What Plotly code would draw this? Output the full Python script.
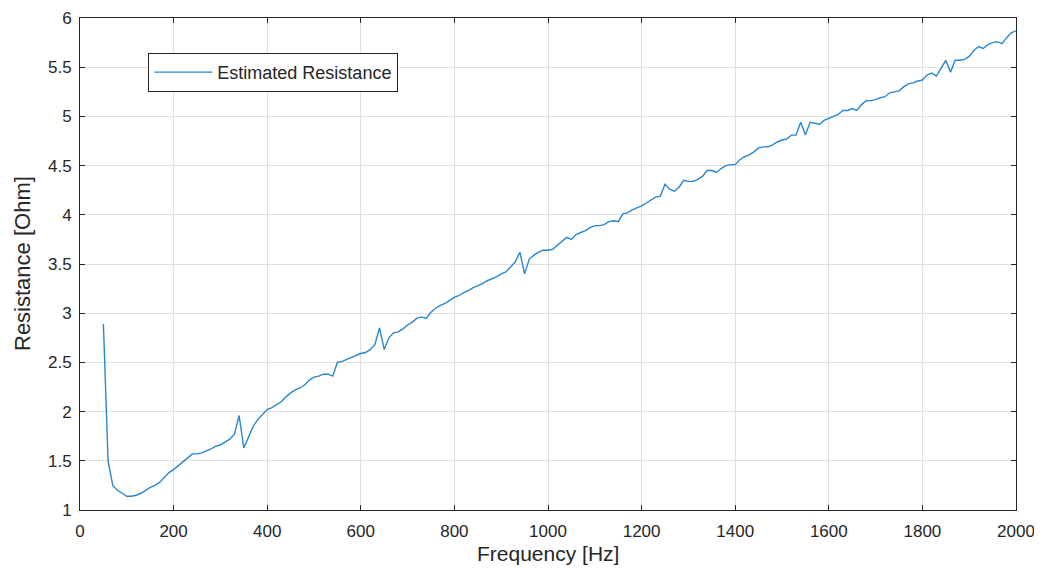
import plotly.graph_objects as go

freq_start = 50
freq_step = 10
resistance = [
    2.89, 1.50, 1.25, 1.20, 1.17, 1.14, 1.14, 1.15, 1.17, 1.20,   # 50-140
    1.23, 1.25, 1.28, 1.33, 1.38, 1.41, 1.45, 1.49, 1.53, 1.57,   # 150-240
    1.57, 1.58, 1.60, 1.62, 1.65, 1.66, 1.69, 1.72, 1.77, 1.96,   # 250-340
    1.63, 1.75, 1.85, 1.92, 1.97, 2.02, 2.04, 2.07, 2.10, 2.15,   # 350-440
    2.19, 2.22, 2.24, 2.27, 2.32, 2.35, 2.36, 2.38, 2.38, 2.36,   # 450-540
    2.50, 2.51, 2.53, 2.55, 2.57, 2.59, 2.60, 2.63, 2.68, 2.85,   # 550-640
    2.63, 2.75, 2.80, 2.81, 2.84, 2.88, 2.91, 2.95, 2.96, 2.95,   # 650-740
    3.01, 3.05, 3.08, 3.10, 3.13, 3.16, 3.18, 3.21, 3.23, 3.26,   # 750-840
    3.28, 3.30, 3.33, 3.35, 3.37, 3.40, 3.42, 3.47, 3.52, 3.62,   # 850-940
    3.40, 3.55, 3.59, 3.62, 3.64, 3.64, 3.65, 3.69, 3.73, 3.77,   # 950-1040
    3.75, 3.80, 3.82, 3.84, 3.87, 3.89, 3.89, 3.90, 3.93, 3.94,   # 1050-1140
    3.93, 4.01, 4.02, 4.05, 4.07, 4.09, 4.12, 4.15, 4.18, 4.19,   # 1150-1240
    4.31, 4.26, 4.24, 4.28, 4.35, 4.34, 4.34, 4.36, 4.39, 4.45,   # 1250-1340
    4.45, 4.43, 4.47, 4.50, 4.51, 4.51, 4.56, 4.59, 4.61, 4.64,   # 1350-1440
    4.68, 4.69, 4.69, 4.71, 4.74, 4.76, 4.77, 4.81, 4.81, 4.94,   # 1450-1540
    4.81, 4.94, 4.93, 4.92, 4.96, 4.98, 5.00, 5.02, 5.06, 5.06,   # 1550-1640
    5.08, 5.06, 5.12, 5.16, 5.16, 5.17, 5.19, 5.20, 5.24, 5.25,   # 1650-1740
    5.26, 5.30, 5.33, 5.34, 5.36, 5.37, 5.42, 5.44, 5.41, 5.49,   # 1750-1840
    5.57, 5.45, 5.57, 5.57, 5.58, 5.61, 5.67, 5.71, 5.69, 5.73,   # 1850-1940
    5.75, 5.76, 5.74, 5.80, 5.85, 5.87,                           # 1950-2000
]
frequency = [freq_start + freq_step * i for i in range(len(resistance))]

x_ticks = [0, 200, 400, 600, 800, 1000, 1200, 1400, 1600, 1800, 2000]
y_ticks = [1, 1.5, 2, 2.5, 3, 3.5, 4, 4.5, 5, 5.5, 6]
x_title = "Frequency [Hz]"
y_title = "Resistance [Ohm]"

FONT = "Liberation Sans, Arial, Helvetica, sans-serif"
AX = "#262626"
GRID = "#dfdfdf"

fig = go.Figure()
fig.add_trace(go.Scatter(
    x=frequency, y=resistance, mode="lines",
    name="Estimated Resistance",
    line=dict(color="#2a86cf", width=1.4),
))

axis_common = dict(
    showline=True, linecolor=AX, linewidth=1, mirror="ticks",
    ticks="inside", ticklen=5, tickcolor=AX, tickwidth=1,
    showgrid=True, gridcolor=GRID, gridwidth=1,
    zeroline=False, automargin=False, ticklabeloverflow="allow",
    tickfont=dict(family=FONT, size=17, color=AX),
)

fig.update_layout(
    width=1026, height=558, autosize=False,
    paper_bgcolor="white", plot_bgcolor="white",
    margin=dict(l=72, r=18, t=10, b=56),
    font=dict(family=FONT, color=AX),
    xaxis=dict(range=[0, 2000], tickvals=x_ticks, ticklabelstandoff=6,
               **axis_common),
    yaxis=dict(range=[1, 6], tickvals=y_ticks, ticklabelstandoff=4,
               ticktext=[("%g" % v) for v in y_ticks],
               **axis_common),
    showlegend=True,
    legend=dict(x=0.073, y=0.929, xanchor="left", yanchor="top",
                bgcolor="white", bordercolor=AX, borderwidth=1,
                font=dict(family=FONT, size=18, color=AX),
                itemwidth=58),
    annotations=[
        dict(text=x_title, xref="paper", yref="paper", x=0.5, y=0,
             xanchor="center", yanchor="middle", yshift=-43, showarrow=False,
             font=dict(family=FONT, size=21, color=AX)),
        dict(text=y_title, xref="paper", yref="paper", x=0, y=0.5,
             xanchor="center", yanchor="middle", xshift=-58, textangle=-90,
             showarrow=False, font=dict(family=FONT, size=22, color=AX)),
    ],
)

fig.write_html("out.html")
